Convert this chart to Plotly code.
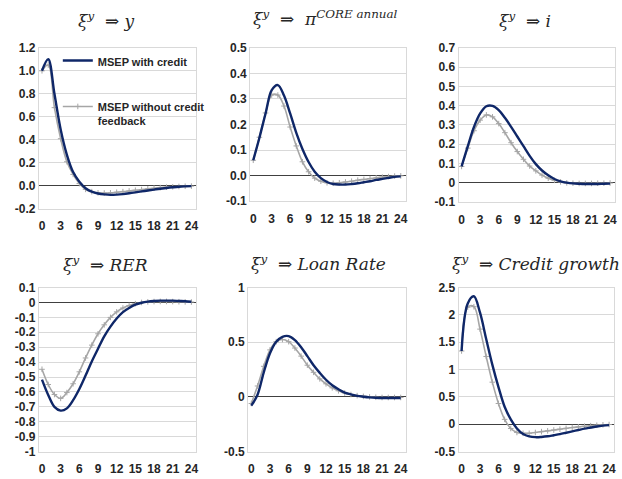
import plotly.graph_objects as go

quarters = list(range(25))

y_with = [1.00, 1.10, 0.80, 0.49, 0.27, 0.12, 0.036, -0.02, -0.05, -0.066, -0.074, -0.078, -0.076,
          -0.071, -0.064, -0.056, -0.048, -0.040, -0.032, -0.025, -0.018, -0.012, -0.007, -0.004, -0.002]
y_without = [1.00, 1.05, 0.68, 0.41, 0.21, 0.10, 0.02, -0.03, -0.05, -0.06, -0.062, -0.06, -0.055,
             -0.05, -0.044, -0.038, -0.032, -0.026, -0.02, -0.015, -0.011, -0.008, -0.005, -0.003, -0.002]

pi_with = [0.06, 0.148, 0.243, 0.334, 0.354, 0.313, 0.243, 0.167, 0.104, 0.053, 0.015, -0.01, -0.025,
           -0.033, -0.035, -0.035, -0.033, -0.030, -0.026, -0.022, -0.017, -0.013, -0.009, -0.005, -0.003]
pi_without = [0.06, 0.15, 0.245, 0.315, 0.315, 0.272, 0.19, 0.116, 0.054, 0.015, -0.01, -0.022, -0.028,
              -0.030, -0.028, -0.025, -0.022, -0.018, -0.015, -0.012, -0.009, -0.006, -0.004, -0.002, -0.001]

i_with = [0.085, 0.19, 0.29, 0.36, 0.397, 0.399, 0.377, 0.337, 0.29, 0.24, 0.19, 0.14, 0.097,
          0.064, 0.039, 0.02, 0.008, 0.001, -0.003, -0.005, -0.006, -0.006, -0.006, -0.005, -0.004]
i_without = [0.085, 0.18, 0.27, 0.325, 0.352, 0.342, 0.307, 0.26, 0.208, 0.162, 0.122, 0.087, 0.062,
             0.040, 0.024, 0.013, 0.005, 0.0, -0.002, -0.003, -0.003, -0.003, -0.002, -0.002, -0.001]

rer_with = [-0.517, -0.62, -0.70, -0.725, -0.71, -0.655, -0.58, -0.49, -0.395, -0.31, -0.227, -0.162, -0.108,
            -0.065, -0.037, -0.015, -0.002, 0.006, 0.010, 0.012, 0.012, 0.012, 0.010, 0.008, 0.005]
rer_without = [-0.448, -0.55, -0.617, -0.643, -0.604, -0.545, -0.465, -0.372, -0.286, -0.21, -0.15, -0.10, -0.063,
               -0.037, -0.02, -0.008, 0.0, 0.004, 0.006, 0.007, 0.007, 0.006, 0.005, 0.004, 0.003]

loan_with = [-0.08, 0.02, 0.225, 0.40, 0.505, 0.55, 0.556, 0.52, 0.455, 0.373, 0.29, 0.22, 0.157,
             0.107, 0.07, 0.04, 0.024, 0.01, 0.002, -0.004, -0.008, -0.01, -0.01, -0.01, -0.01]
loan_without = [-0.06, 0.10, 0.28, 0.43, 0.505, 0.525, 0.505, 0.447, 0.373, 0.29, 0.225, 0.165, 0.12,
                0.083, 0.056, 0.036, 0.022, 0.012, 0.005, 0.0, -0.003, -0.005, -0.005, -0.005, -0.005]

cred_with = [1.34, 2.21, 2.34, 2.04, 1.56, 1.09, 0.68, 0.32, 0.09, -0.077, -0.177, -0.22, -0.236,
             -0.232, -0.22, -0.20, -0.18, -0.155, -0.13, -0.105, -0.08, -0.06, -0.04, -0.025, -0.015]
cred_without = [1.34, 2.14, 2.15, 1.74, 1.24, 0.77, 0.38, 0.09, -0.077, -0.15, -0.165, -0.165, -0.15,
                -0.135, -0.12, -0.105, -0.09, -0.075, -0.06, -0.048, -0.036, -0.026, -0.018, -0.01, -0.005]

x_ticks = [0, 3, 6, 9, 12, 15, 18, 21, 24]

panels = [
    dict(w=y_with, wo=y_without, title="<i>ξ<sup>y</sup></i>  ⇒ <i>y</i>",
         tv=[1.2, 1.0, 0.8, 0.6, 0.4, 0.2, 0.0, -0.2],
         tt=["1.2", "1.0", "0.8", "0.6", "0.4", "0.2", "0.0", "-0.2"], rng=[-0.2, 1.2]),
    dict(w=pi_with, wo=pi_without, title="<i>ξ<sup>y</sup></i>  ⇒  <i>π<sup>CORE annual</sup></i>",
         tv=[0.5, 0.4, 0.3, 0.2, 0.1, 0.0, -0.1],
         tt=["0.5", "0.4", "0.3", "0.2", "0.1", "0.0", "-0.1"], rng=[-0.1, 0.5]),
    dict(w=i_with, wo=i_without, title="<i>ξ<sup>y</sup></i>  ⇒ <i>i</i>",
         tv=[0.7, 0.6, 0.5, 0.4, 0.3, 0.2, 0.1, 0.0, -0.1],
         tt=["0.7", "0.6", "0.5", "0.4", "0.3", "0.2", "0.1", "0", "-0.1"], rng=[-0.1, 0.7]),
    dict(w=rer_with, wo=rer_without, title="<i>ξ<sup>y</sup></i>  ⇒ <i>RER</i>",
         tv=[0.1, 0.0, -0.1, -0.2, -0.3, -0.4, -0.5, -0.6, -0.7, -0.8, -0.9, -1.0],
         tt=["0.1", "0", "-0.1", "-0.2", "-0.3", "-0.4", "-0.5", "-0.6", "-0.7", "-0.8", "-0.9", "-1"],
         rng=[-1.0, 0.1]),
    dict(w=loan_with, wo=loan_without, title="<i>ξ<sup>y</sup></i>  ⇒ <i>Loan Rate</i>",
         tv=[1.0, 0.5, 0.0, -0.5], tt=["1", "0.5", "0", "-0.5"], rng=[-0.5, 1.0]),
    dict(w=cred_with, wo=cred_without, title="<i>ξ<sup>y</sup></i>  ⇒ <i>Credit growth</i>",
         tv=[2.5, 2.0, 1.5, 1.0, 0.5, 0.0, -0.5], tt=["2.5", "2", "1.5", "1", "0.5", "0", "-0.5"],
         rng=[-0.5, 2.5]),
]

W, H = 622, 479
# plot boxes in pixels: (left, right, top, bottom)
boxes = [(39, 197, 42, 208), (251, 407, 42, 200), (460, 617, 42, 201),
         (39, 197, 289, 458), (249, 407, 289, 458), (460, 616, 289, 458)]
title_pos = [(107, 13), (327, 11), (527, 13), (106, 265), (320, 264), (538, 264)]

NAVY = "#0f2768"
GRAY = "#a6a6a6"
TICKFONT = dict(family="Liberation Sans, Arial", size=12, color="#262626", weight="bold")

fig = go.Figure()
for k, p in enumerate(panels):
    idx = "" if k == 0 else str(k + 1)
    fig.add_trace(go.Scatter(
        x=quarters, y=p["wo"], mode="lines+markers", line=dict(color=GRAY, width=1.6, shape="spline"),
        marker=dict(symbol="cross-thin", size=4, color=GRAY, line=dict(color=GRAY, width=1)),
        name="MSEP without credit<br>feedback", legendgroup="b", legendrank=2, showlegend=(k == 0),
        xaxis="x" + idx, yaxis="y" + idx))
    fig.add_trace(go.Scatter(
        x=quarters, y=p["w"], mode="lines", line=dict(color=NAVY, width=2.4, shape="spline"),
        name="MSEP with credit", legendgroup="a", legendrank=1, showlegend=(k == 0),
        xaxis="x" + idx, yaxis="y" + idx))

    l, r, t, b = boxes[k]
    axis_common = dict(showline=True, mirror=True, linecolor="#d9d9d9", linewidth=1,
                       ticks="", tickfont=TICKFONT)
    fig.update_layout(**{
        "xaxis" + idx: dict(domain=[l / W, r / W], range=[-0.5, 24.8], tickvals=x_ticks,
                            ticktext=[str(v) for v in x_ticks], ticklabelstandoff=6,
                            showgrid=False, zeroline=False, anchor="y" + idx, **axis_common),
        "yaxis" + idx: dict(domain=[1 - b / H, 1 - t / H], range=p["rng"], tickvals=p["tv"],
                            ticktext=p["tt"],
                            showgrid=True, gridcolor="#d9d9d9", gridwidth=1,
                            zeroline=True, zerolinecolor="#404040", zerolinewidth=1,
                            anchor="x" + idx, **axis_common),
    })
    tx, ty = title_pos[k]
    fig.add_annotation(x=tx / W, y=1 - ty / H, xref="paper", yref="paper", text=p["title"],
                       showarrow=False, xanchor="center", yanchor="middle",
                       font=dict(family="DejaVu Serif", size=17, color="#262626"))

fig.update_layout(
    width=W, height=H, margin=dict(l=0, r=0, t=0, b=0),
    plot_bgcolor="white", paper_bgcolor="white",
    legend=dict(x=58 / W, y=1 - 41 / H, xanchor="left", yanchor="top", bgcolor="rgba(0,0,0,0)",
                font=dict(family="Liberation Sans, Arial", size=11, color="#262626", weight="bold"),
                traceorder="grouped", tracegroupgap=27, itemwidth=30, valign="top"),
)

fig.write_html("out.html", config={"displayModeBar": False},
               post_script="document.body.style.margin='0';")
